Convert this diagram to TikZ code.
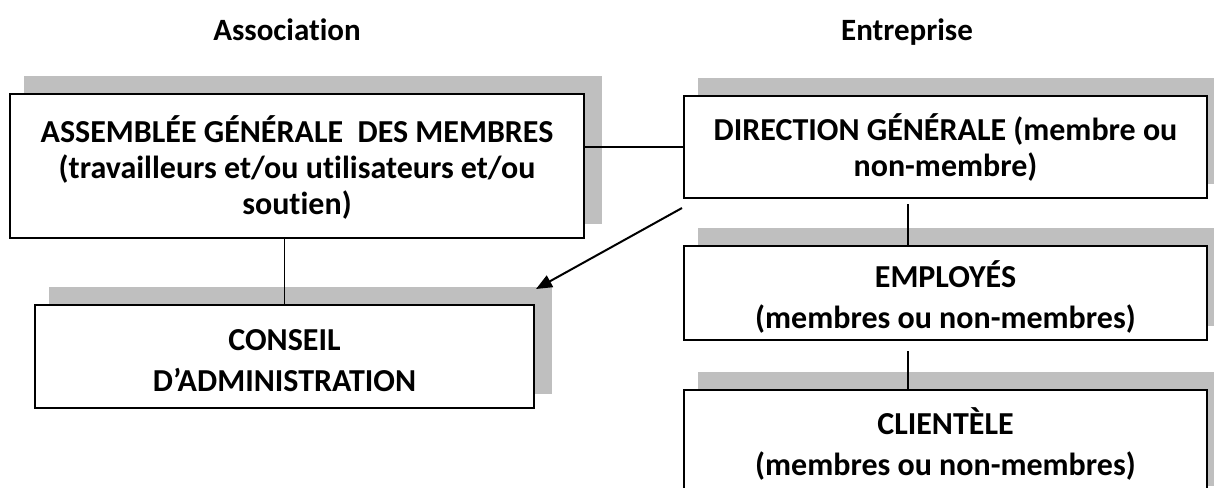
\documentclass[tikz,border=0pt]{standalone}
\usepackage{fontspec}
\setmainfont{Carlito}[Ligatures={NoCommon}]
\usetikzlibrary{backgrounds,arrows.meta}
\definecolor{shadowgray}{HTML}{BFBFBF}
\tikzset{
  box/.style={draw=black, line width=2pt, fill=white, inner sep=0pt},
  boxtext/.style={align=center, inner sep=0pt, font=\fontsize{32}{36}\selectfont\bfseries},
  boxtextwide/.style={boxtext, font=\fontsize{32}{41}\selectfont\bfseries},
  title/.style={anchor=base, font=\fontsize{31}{36}\selectfont\bfseries},
  link/.style={line width=1.4pt},
  arrowlink/.style={line width=2pt, -{Triangle[length=16pt,width=13pt]}},
  shadowfill/.style={fill=shadowgray, draw=none}
}
\newcommand{\boxshadow}[1]{%
  \fill[shadowfill] ([shift={(15,-17)}]#1.north west) rectangle ([shift={(17,-15)}]#1.south east);}
\begin{document}
\begin{tikzpicture}[x=1pt,y=-1pt]
\useasboundingbox (0,0) rectangle (1214,487);
\node[title] (tA) at (287,41) {Association};
\node[title] (tE) at (907,41) {Entreprise};

\node[box, minimum width=574pt, minimum height=144pt] (a) at (297,166) {};
\node[box, minimum width=523pt, minimum height=102pt] (b) at (945.5,147) {};
\node[box, minimum width=499pt, minimum height=103pt] (d) at (284.5,356.5) {};
\node[box, minimum width=523pt, minimum height=94pt] (e) at (945.5,293) {};
\node[box, minimum width=523pt, minimum height=110pt] (c) at (945.5,445) {};

\node[boxtext] (at) at ([yshift=-1pt]a.center)
  {ASSEMBLÉE GÉNÉRALE\ \ DES MEMBRES\\(travailleurs et/ou utilisateurs et/ou\\soutien)};
\node[boxtext] (bt) at (b.center) {DIRECTION GÉNÉRALE (membre ou\\non-membre)};
\node[boxtextwide] (dt) at ([yshift=-4pt]d.center) {CONSEIL\\D’ADMINISTRATION};
\node[boxtextwide] (et) at ([yshift=-4pt]e.center) {EMPLOYÉS\\(membres ou non-membres)};
\node[boxtextwide] (ct) at ([yshift=1pt]c.center) {CLIENTÈLE\\(membres ou non-membres)};

\begin{scope}[on background layer]
  \boxshadow{a}
  \boxshadow{b}
  \boxshadow{d}
  \boxshadow{e}
  \boxshadow{c}
\end{scope}

\coordinate (bdown) at ([xshift=-37.5pt,yshift=-5pt]b.south);
\coordinate (edown) at ([xshift=-37.5pt,yshift=-10pt]e.south);
\coordinate (arrstart) at ([shift={(-1,9)}]b.south west);
\coordinate (arrend) at ([shift={(1,-15)}]d.north east);

\draw[link] (b.west) -- (b.west -| a.east);
\draw[link] (d.north) -- (d.north |- a.south);
\draw[link] (bdown) -- (bdown |- e.north);
\draw[link] (edown) -- (edown |- c.north);
\draw[arrowlink] (arrstart) -- (arrend);
\end{tikzpicture}
\end{document}
